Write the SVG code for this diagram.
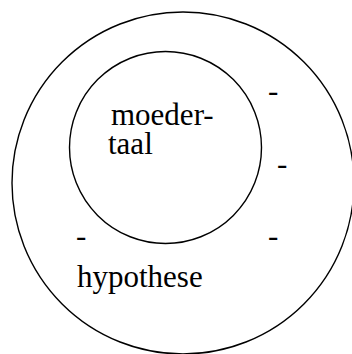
<svg xmlns="http://www.w3.org/2000/svg" width="352" height="354" viewBox="0 0 352 354">
<style>
.c{fill:none;stroke:#000;stroke-width:1.4}
text{font-family:'Liberation Serif','DejaVu Serif',serif;font-size:31px;fill:#000}
</style>
<rect width="352" height="354" fill="#fff"/>
<g id="outer"><circle class="c" cx="183" cy="183" r="171"/></g>
<g id="inner"><circle class="c" cx="165.5" cy="147.5" r="96"/></g>
<g id="labels" font-family="Liberation Serif, serif">
<text x="111" y="125">moeder-</text>
<text x="108" y="154">taal</text>
<text x="77" y="287">hypothese</text>
<text x="268" y="101">-</text>
<text x="277" y="174">-</text>
<text x="76" y="246">-</text>
<text x="268" y="246">-</text>
</g>
</svg>
